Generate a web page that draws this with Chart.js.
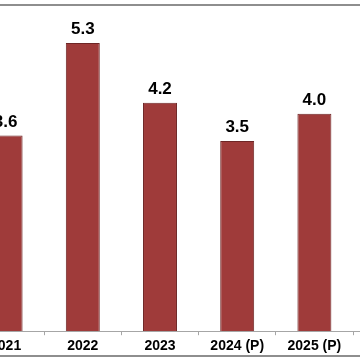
<!DOCTYPE html>
<html>
<head>
<meta charset="utf-8">
<script src="https://cdn.jsdelivr.net/npm/chart.js@4"></script>
<style>
  html, body { margin: 0; padding: 0; background: #fff; overflow: hidden; width: 360px; height: 360px; }
  #chart { position: absolute; left: -40px; top: 0; }
  .rule { position: absolute; left: 0; width: 360px; height: 2px; background: #8e8e8e; }
</style>
</head>
<body>
<canvas id="chart" width="440" height="360"></canvas>
<div class="rule" style="top:4px"></div>
<div class="rule" style="top:355px"></div>
<script>
// values
const years = ['2021', '2022', '2023', '2024 (P)', '2025 (P)'];
const growth = [3.6, 5.3, 4.2, 3.5, 4.0];

const valueLabels = {
    id: 'valueLabels',
    afterDatasetsDraw(chart) {
        const ctx = chart.ctx;
        ctx.save();
        ctx.font = 'bold 17px "Liberation Sans", Arial, sans-serif';
        ctx.fillStyle = '#000';
        ctx.textAlign = 'center';
        ctx.textBaseline = 'bottom';
        chart.getDatasetMeta(0).data.forEach((bar, i) => {
            ctx.fillText(growth[i].toFixed(1), bar.x, bar.y - 5);
        });
        ctx.restore();
    }
};

// axis line runs the full width of the picture
const axisLine = {
    id: 'axisLine',
    afterDraw(chart) {
        const ctx = chart.ctx;
        const y = Math.round(chart.chartArea.bottom) + 0.5;
        ctx.save();
        ctx.strokeStyle = '#a6a6a6';
        ctx.lineWidth = 1;
        ctx.beginPath();
        ctx.moveTo(0, y);
        ctx.lineTo(chart.width, y);
        ctx.stroke();
        ctx.restore();
    }
};

new Chart(document.getElementById('chart').getContext('2d'), {
    type: 'bar',
    data: {
        labels: years,
        datasets: [{
            data: growth,
            backgroundColor: '#9f3b3a',
            borderColor: '#6e2626',
            borderWidth: 1,
            categoryPercentage: 1,
            barPercentage: 0.44
        }]
    },
    options: {
        responsive: false,
        animation: false,
        layout: { padding: { left: 7, right: 47, top: 5, bottom: 2 } },
        plugins: { legend: { display: false }, tooltip: { enabled: false } },
        scales: {
            x: {
                grid: { drawOnChartArea: false, drawTicks: true, tickLength: 4, color: '#a6a6a6', offset: true },
                border: { display: false },
                ticks: {
                    color: '#000',
                    padding: 3,
                    font: { family: '"Liberation Sans", Arial, sans-serif', size: 14, weight: 'bold' }
                }
            },
            y: {
                display: false,
                min: 0,
                max: 6
            }
        }
    },
    plugins: [valueLabels, axisLine]
});
</script>
</body>
</html>
